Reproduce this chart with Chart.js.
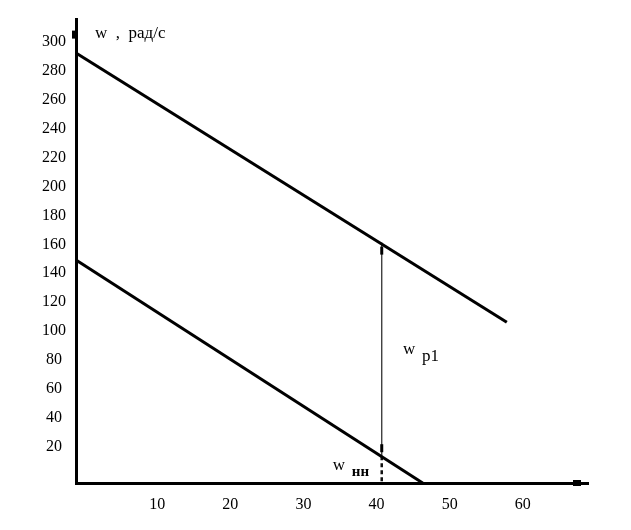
<!DOCTYPE html>
<html>
<head>
<meta charset="utf-8">
<script src="https://cdn.jsdelivr.net/npm/chart.js@4"></script>
<style>
  body { margin: 0; background: #fff; }
</style>
</head>
<body>
<canvas id="speedChart" width="631" height="530"></canvas>
<script>
// tick labels
const xTicks = [10, 20, 30, 40, 50, 60];
const yTicks = [20, 40, 60, 80, 100, 120, 140, 160, 180, 200, 220, 240, 260, 280, 300];

// upper characteristic
const upperX = [0, 58.9];
const upperY = [297, 111];

// lower characteristic
const lowerX = [0, 47.4];
const lowerY = [154, 0];

// vertical cut between the two lines (w p1, then w нн down to the axis)
const cutX = 41.8;
const cutY = [166, 18.5, 0];

// text labels, placed in data units
const notes = [
    { text: 'w  ,  рад/с', x: 2.6, y: 307, bold: false },
    { text: 'w', x: 44.7, y: 89, bold: false },
    { text: 'p1', x: 47.3, y: 84, bold: false },
    { text: 'w', x: 35.1, y: 9, bold: false },
    { text: 'нн', x: 37.7, y: 4.8, bold: true }
];

const toPts = (xs, ys) => xs.map((x, i) => ({ x: x, y: ys[i] }));

const notesPlugin = {
    id: 'notes',
    afterDraw(chart) {
        const ctx = chart.ctx;
        const xs = chart.scales.x, ys = chart.scales.y;
        const area = chart.chartArea;
        ctx.save();
        ctx.fillStyle = '#000';
        ctx.textAlign = 'left';
        ctx.textBaseline = 'alphabetic';
        notes.forEach(n => {
            ctx.font = (n.bold ? 'bold 15px' : '17px') + ' "Liberation Serif"';
            ctx.fillText(n.text, xs.getPixelForValue(n.x), ys.getPixelForValue(n.y));
        });
        // little arrow blocks on the axes
        ctx.fillRect(area.left - 4, area.top + 11, 6, 8);
        ctx.fillRect(area.right - 15, area.bottom - 3, 8, 6);
        // small arrow ticks at the ends of the w p1 segment
        const cx = xs.getPixelForValue(cutX);
        ctx.fillRect(cx - 1.5, ys.getPixelForValue(cutY[0]) + 4, 3, 8);
        ctx.fillRect(cx - 1.5, ys.getPixelForValue(cutY[1]) - 12, 3, 8);
        ctx.restore();
    }
};

const ctx = document.getElementById('speedChart').getContext('2d');
const myChart = new Chart(ctx, {
    type: 'line',
    data: {
        datasets: [{
            data: toPts(upperX, upperY),
            borderColor: '#000',
            borderWidth: 3
        }, {
            data: toPts(lowerX, lowerY),
            borderColor: '#000',
            borderWidth: 3
        }, {
            data: toPts([cutX, cutX], cutY.slice(0, 2)),
            borderColor: '#333',
            borderWidth: 1.3
        }, {
            data: toPts([cutX, cutX], cutY.slice(1)),
            borderColor: '#111',
            borderWidth: 2.5,
            borderDash: [4, 3]
        }]
    },
    options: {
        responsive: false,
        animation: false,
        clip: false,
        layout: { padding: { top: 16, right: 43, left: 0, bottom: 0 } },
        elements: { point: { radius: 0 }, line: { tension: 0 } },
        plugins: {
            legend: { display: false },
            tooltip: { enabled: false }
        },
        scales: {
            x: {
                type: 'linear',
                min: 0,
                max: 70,
                afterFit: s => { s.height = 47; },
                afterBuildTicks: s => { s.ticks = xTicks.map(v => ({ value: v })); },
                grid: { display: false, drawTicks: false },
                border: { display: true, color: '#000', width: 3 },
                ticks: {
                    color: '#000',
                    padding: 12,
                    labelOffset: 8,
                    font: { family: 'Liberation Serif', size: 16 }
                }
            },
            y: {
                type: 'linear',
                min: 0,
                max: 320,
                afterFit: s => { s.width = 76; },
                afterBuildTicks: s => { s.ticks = yTicks.map(v => ({ value: v })); },
                grid: { display: false, drawTicks: false },
                border: { display: true, color: '#000', width: 3 },
                ticks: {
                    color: '#000',
                    padding: 10,
                    labelOffset: -7,
                    crossAlign: 'center',
                    font: { family: 'Liberation Serif', size: 16 }
                }
            }
        }
    },
    plugins: [notesPlugin]
});
</script>
</body>
</html>
